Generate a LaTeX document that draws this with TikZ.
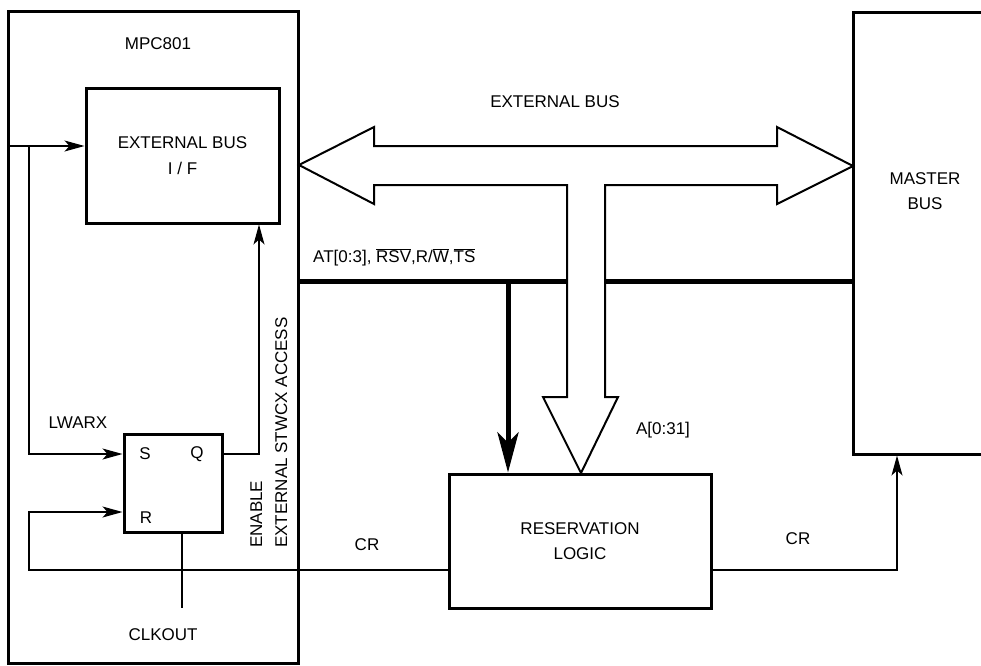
\documentclass[tikz,border=0pt]{standalone}
\usepackage{fontspec}
\setmainfont{Liberation Sans}
\usetikzlibrary{arrows.meta,calc}
\newcommand\ovl[1]{$\overline{\mbox{#1}}$}
\begin{document}
\begin{tikzpicture}[x=1pt,y=-1pt,
  box/.style={draw, line width=3pt, inner sep=0pt, align=center, font=\fontsize{17}{25.5}\selectfont},
  sig/.style={line width=1.2pt},
  tip/.style={-{Stealth[length=20pt,width=11pt,inset=5pt]}},
  lbl/.style={font=\fontsize{17}{24.5}\selectfont, align=center, inner sep=0pt},
]
\useasboundingbox (0,0) rectangle (981,665);
\clip (0,0) rectangle (981,665);

% blocks
\node[box, minimum width=290pt, minimum height=652pt] (mpc) at (153,337) {};
\node[lbl] (mpcl) at (158,44) {MPC801};
\node[box, minimum width=193pt, minimum height=135pt] (ebif) at (182.5,155.5) {EXTERNAL BUS\\I / F};
\node[box, minimum width=98pt, minimum height=98pt] (ff) at (173,483) {};
\node[lbl] (s) at (145,454) {S};
\node[lbl] (q) at (197,454) {Q};
\node[lbl] (r) at (146,518) {R};
\node[box, minimum width=262pt, minimum height=134pt] (rl) at (580,541) {RESERVATION\\LOGIC};
\node[box, minimum width=144pt, minimum height=442pt] (master) at (925,233) {};
\node[lbl] (masterl) at (925,191) {MASTER\\BUS};

% labels
\node[lbl] (ebl) at (555,102) {EXTERNAL BUS};
\node[lbl, anchor=west] (atl) at (313,257) {AT[0:3], \ovl{RSV},R/\ovl{W},\ovl{TS}};
\node[lbl] (al) at (663,430) {A[0:31]};
\node[lbl] (crl1) at (367,545) {CR};
\node[lbl] (crl2) at (798,539) {CR};
\node[lbl] (lw) at (78,423) {LWARX};
\node[lbl] (ckl) at (163,635) {CLKOUT};
\node[lbl, rotate=90, anchor=base west] (en) at (262,548) {ENABLE};
\node[lbl, rotate=90, anchor=base west] (esa) at (287,548) {EXTERNAL STWCX ACCESS};

% coordinates
\coordinate (inL) at (8,146);
\coordinate (br) at (29,146);
\coordinate (crL) at (29,570);
\coordinate (rIn) at (29,512);
\coordinate (qx) at (259,454);
\coordinate (ck) at (182,608);
\coordinate (crR) at (897,570);
\coordinate (busL) at (298,281);
\coordinate (busA) at (567,281);
\coordinate (busB) at (605,281);
\coordinate (tk) at (508,281);

% signals
\draw[sig,tip] (inL) -- (ebif.west |- inL);
\draw[sig,tip] (br) |- (ff.west |- s);
\draw[sig,tip] (rl.west |- crL) -- (crL) -- (rIn) -- (ff.west |- rIn);
\draw[sig,tip] (ff.east |- qx) -- (qx) -- (ebif.south -| qx);
\draw[sig] (ff.south -| ck) -- (ck);
\draw[sig,tip] (rl.east |- crR) -- (crR) -- (master.south -| crR);

% bus
\draw[line width=5pt] (mpc.east |- busL) -- (busA);
\draw[line width=5pt] (busB) -- (master.west |- busB);
\draw[line width=5pt, -{Stealth[length=40pt,width=21pt,inset=10pt]}] (tk) -- (rl.north -| tk);

% big external bus arrow
\draw[line width=2pt, fill=white, line join=miter]
  (299,165) -- (374,127) -- (374,146) -- (777,146) -- (777,127) -- (853,166)
  -- (777,204) -- (777,185) -- (605,185) -- (605,397) -- (618,397) -- (581,473)
  -- (543,397) -- (567,397) -- (567,185) -- (374,185) -- (374,204) -- cycle;
\end{tikzpicture}
\end{document}
